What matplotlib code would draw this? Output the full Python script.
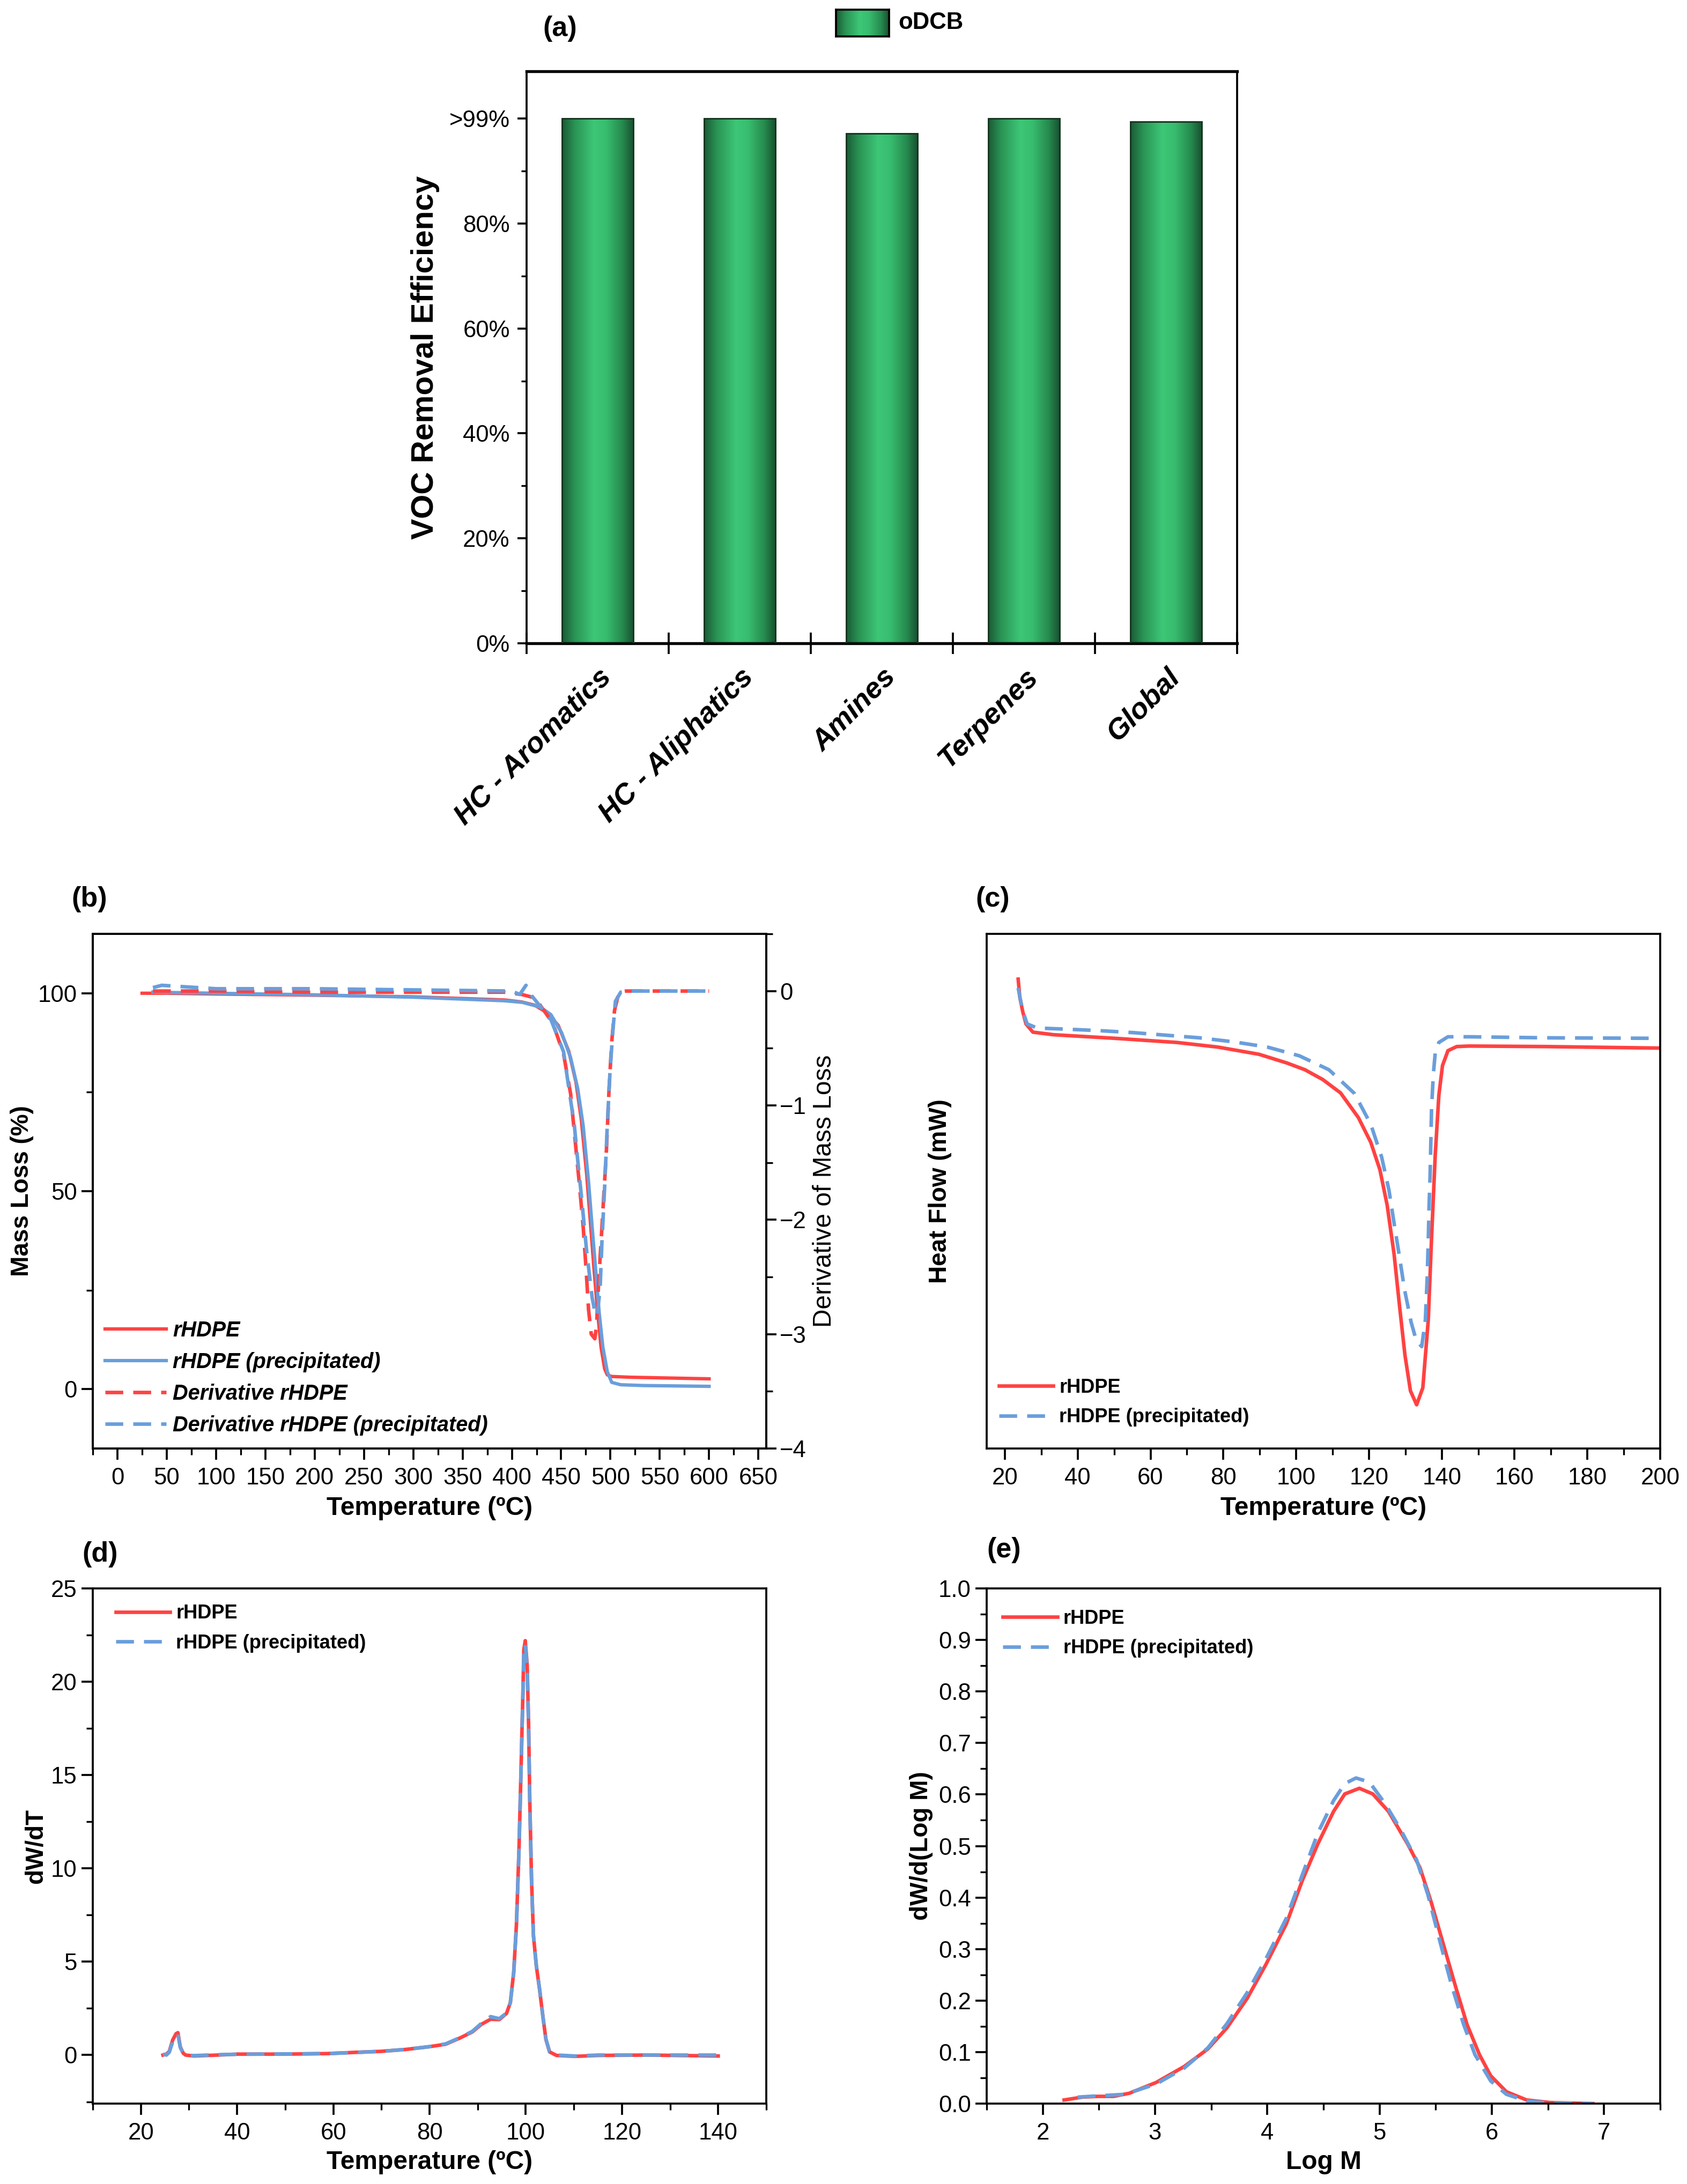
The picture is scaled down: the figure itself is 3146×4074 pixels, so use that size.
import numpy as np
import matplotlib
matplotlib.use('Agg')
import matplotlib.pyplot as plt
from matplotlib.colors import LinearSegmentedColormap
from matplotlib.ticker import MultipleLocator, FormatStrFormatter

plt.rcParams['font.family'] = ['Liberation Sans', 'DejaVu Sans']
plt.rcParams['axes.linewidth'] = 0.9
plt.rcParams['xtick.major.width'] = 0.9
plt.rcParams['ytick.major.width'] = 0.9
plt.rcParams['xtick.minor.width'] = 0.8
plt.rcParams['ytick.minor.width'] = 0.8

RED = '#ff4242'
BLUE = '#6a9edb'
DASH = (0, (5, 2.8))

# (a) VOC removal efficiency
voc_groups = ['HC - Aromatics', 'HC - Aliphatics', 'Amines', 'Terpenes', 'Global']
voc_efficiency = [100.0, 100.0, 97.1, 100.0, 99.4]
voc_ticks = [0, 20, 40, 60, 80, 100]
voc_ticklabels = ['0%', '20%', '40%', '60%', '80%', '>99%']

# (b) TGA mass loss and derivative
tga_temp_r = [25, 50, 100, 200, 300, 392.5, 410, 423, 435, 447, 457.8, 465, 470.4, 475.9, 479.5,
              483.2, 486.8, 490.4, 494.1, 496.8, 501, 520, 560, 600]
tga_mass_r = [100, 100, 99.8, 99.5, 99.1, 98.3, 97.8, 97.0, 95.2, 91.9, 85.3, 77.5, 68.1, 54.1, 42.5,
              30.6, 19.9, 10.6, 5.1, 3.6, 3.2, 3.0, 2.8, 2.6]
tga_temp_p = [36, 50, 100, 200, 300, 392.5, 410.6, 428.7, 439.6, 450.5, 459.6, 466.8, 472.3, 477.7,
              481.4, 485.0, 488.6, 492.3, 496.8, 501.3, 510.4, 534, 600]
tga_mass_p = [100.3, 100.2, 100.0, 99.6, 99.0, 98.1, 97.7, 96.5, 94.6, 90.0, 83.7, 75.9, 66.6, 52.6,
              41.0, 30.1, 19.2, 10.6, 4.4, 1.7, 1.1, 0.9, 0.7]
dtg_temp_r = [36, 100, 200, 300, 392.5, 410, 423.4, 441.5, 452.4, 459.6, 465.1, 468.7, 472.3, 475.1,
              477.8, 480.5, 484.1, 486, 486.8, 490.4, 493.2, 495.9, 498.6, 501.3, 504.1, 508.6, 515.9, 600]
dtg_r = [0.0, 0.0, -0.01, -0.01, -0.01, -0.03, -0.06, -0.28, -0.55, -0.90, -1.39, -1.71, -2.06, -2.41,
         -2.79, -3.0, -3.04, -2.92, -2.73, -2.2, -1.79, -1.39, -0.85, -0.44, -0.17, -0.01, 0.0, 0.0]
dtg_temp_p = [36, 45, 100, 200, 300, 400, 408, 414.3, 420, 439.6, 452.4, 457.8, 463.3, 466.9, 470.5,
              475.9, 481.4, 485.0, 487, 489.5, 491.3, 494.1, 496.8, 499.5, 502.3, 505, 510.4, 520, 600]
dtg_p = [0.03, 0.05, 0.02, 0.02, 0.01, 0.0, -0.03, 0.05, -0.04, -0.25, -0.53, -0.85, -1.17, -1.49,
         -1.79, -2.28, -2.68, -2.84, -2.80, -2.6, -2.2, -1.71, -1.17, -0.71, -0.36, -0.09, -0.01, 0.0, 0.0]

# (c) DSC heat flow (relative units)
dsc_temp_r = [23.65, 24.1, 24.9, 25.8, 27.7, 33.4, 50.3, 67.2, 78.5, 89.8, 97.5, 102.4, 107.3, 112.2,
              117.1, 120.5, 123.0, 125.0, 126.9, 128.4, 129.9, 131.4, 133.1, 134.8, 136.3, 137.2, 138.2,
              139.2, 140.2, 141.7, 144.1, 147.5, 168.5, 200.0]
dsc_r = [91.2, 87.7, 84.9, 82.5, 80.9, 80.4, 79.7, 78.9, 78.0, 76.6, 74.9, 73.6, 71.7, 69.1,
         64.3, 59.5, 54.2, 47.3, 37.8, 27.7, 18.1, 11.2, 8.5, 11.8, 25.0, 40.9, 56.9,
         68.6, 74.4, 77.3, 78.1, 78.2, 78.1, 77.8]
dsc_temp_p = [23.65, 24.4, 25.4, 26.1, 28.9, 36.2, 45.8, 55.4, 64.4, 73.4, 83.0, 92.1, 100.9, 109.0,
              116.0, 120.5, 123.5, 125.5, 126.9, 128.4, 129.8, 131.6, 133.0, 134.5, 135.5, 136.0, 136.3,
              136.5, 136.8, 137.0, 137.2, 137.7, 138.2, 139.2, 141.7, 147.5, 168.5, 199.5]
dsc_p = [89.5, 86.7, 84.0, 82.5, 81.7, 81.5, 81.2, 80.8, 80.3, 79.8, 79.0, 78.0, 76.3, 73.6,
         69.0, 63.0, 56.6, 50.2, 43.8, 37.2, 30.8, 24.5, 21.0, 19.8, 25.0, 33.2, 40.4,
         46.8, 53.1, 59.5, 66.2, 72.8, 76.8, 78.9, 80.0, 80.0, 79.8, 79.7]

# (d) TREF dW/dT
tref_temp = [24.6, 25.3, 25.9, 26.6, 27.3, 27.7, 28.2, 28.8, 29.3, 31, 36, 40, 50, 58.8, 65, 70, 75, 80,
             83.35, 86.3, 88.9, 90.8, 92.7, 94.5, 96.0, 96.8, 97.5, 98.06, 98.6, 99.0, 99.4, 99.6, 99.9,
             100.3, 100.6, 100.85, 101.2, 101.6, 102.2, 102.9, 103.6, 104.2, 104.95, 106.4, 110.2, 115,
             125, 140]
tref_r = [0.0, 0.05, 0.19, 0.8, 1.14, 1.2, 0.43, 0.1, 0.0, -0.05, 0.0, 0.05, 0.05, 0.08, 0.15, 0.2, 0.3,
          0.45, 0.58, 0.91, 1.24, 1.65, 1.92, 1.90, 2.23, 2.81, 4.45, 6.97, 11.04, 15.1, 19.3, 21.7,
          22.2, 20.9, 17.6, 13.5, 9.4, 6.4, 4.78, 3.46, 1.99, 0.83, 0.17, -0.02, -0.07, -0.02, 0.0, -0.05]
tref_p = [0.05, 0.0, 0.15, 0.7, 1.05, 1.1, 0.4, 0.08, 0.0, -0.03, 0.02, 0.04, 0.06, 0.08, 0.14, 0.2,
          0.3, 0.45, 0.6, 0.93, 1.27, 1.7, 2.06, 1.95, 2.25, 2.8, 4.4, 6.9, 11.0, 15.0, 19.2, 21.5,
          22.0, 20.8, 17.5, 13.4, 9.4, 6.4, 4.8, 3.5, 2.0, 0.85, 0.18, 0.0, -0.05, 0.0, 0.0, 0.0]

# (e) GPC molecular weight distribution
gpc_logm_r = [2.19, 2.35, 2.49, 2.63, 2.77, 3.01, 3.26, 3.47, 3.64, 3.82, 3.99, 4.17, 4.31, 4.45, 4.59,
              4.69, 4.82, 4.94, 5.08, 5.25, 5.36, 5.46, 5.57, 5.68, 5.78, 5.89, 5.99, 6.13, 6.31, 6.52,
              6.90]
gpc_r = [0.007, 0.0125, 0.014, 0.014, 0.020, 0.041, 0.072, 0.106, 0.147, 0.204, 0.271, 0.349, 0.432,
         0.504, 0.567, 0.601, 0.612, 0.601, 0.567, 0.504, 0.458, 0.391, 0.308, 0.225, 0.153, 0.095,
         0.054, 0.023, 0.007, 0.002, 0.0]
gpc_logm_p = [2.31, 2.49, 2.73, 3.01, 3.26, 3.47, 3.64, 3.82, 3.99, 4.17, 4.31, 4.45, 4.59, 4.69, 4.79,
              4.91, 5.05, 5.19, 5.33, 5.43, 5.54, 5.64, 5.75, 5.85, 5.99, 6.13, 6.31, 6.52, 6.90]
gpc_p = [0.0125, 0.015, 0.018, 0.038, 0.069, 0.108, 0.155, 0.215, 0.282, 0.360, 0.443, 0.525, 0.588,
         0.621, 0.632, 0.624, 0.582, 0.531, 0.473, 0.406, 0.313, 0.231, 0.153, 0.095, 0.044, 0.018,
         0.005, 0.001, 0.0]

W, H = 3146, 4074
fig = plt.figure(figsize=(W / 300, H / 300), dpi=300)


def px_axes(x0, y0, x1, y1):
    return fig.add_axes([x0 / W, 1 - y1 / H, (x1 - x0) / W, (y1 - y0) / H])


def style_ticks(ax):
    ax.tick_params(which='major', direction='out', length=5, labelsize=10.5, top=False, right=False)
    ax.tick_params(which='minor', direction='out', length=2.8, top=False, right=False)
    ax.tick_params(axis='y', which='major', pad=2)


def place_labels(ax, xl, yl, xpos, ypos, xsize=11.5, ysize=11):
    ax.set_xlabel(xl, fontsize=xsize, fontweight='bold')
    ax.set_ylabel(yl, fontsize=ysize, fontweight='bold')
    ax.xaxis.label.set_va('center')
    ax.yaxis.label.set_va('center')
    ax.xaxis.set_label_coords(0.5, xpos)
    ax.yaxis.set_label_coords(ypos, 0.5)


def panel_tag(x, y, s):
    fig.text(x / W, 1 - y / H, s, fontsize=12.5, fontweight='bold', va='center', ha='left')


LEG = dict(frameon=False, handlelength=2.8, handletextpad=0.3, labelspacing=0.57, borderpad=0.2,
           prop={'size': 8.7, 'weight': 'bold'})

# ---------------- (a) ----------------
ax = px_axes(982, 133, 2307, 1200)
bar_cmap = LinearSegmentedColormap.from_list(
    'bar', [(0, '#1b5a35'), (0.18, '#2a9455'), (0.45, '#3dc777'), (0.62, '#38bd6f'),
            (0.85, '#268a4e'), (1, '#185231')])
pos = np.arange(1, len(voc_groups) + 1)
bars = ax.bar(pos, voc_efficiency, width=0.5, color='none', edgecolor='#14361f', linewidth=0.7, zorder=3)
grad = np.linspace(0, 1, 256).reshape(1, -1)
for b in bars:
    im = ax.imshow(grad, cmap=bar_cmap, aspect='auto', interpolation='bilinear', zorder=2,
                   extent=(b.get_x(), b.get_x() + b.get_width(), 0, b.get_height()))
    im.set_clip_path(b)
ax.set_xlim(0.5, 5.5)
ax.set_ylim(0, 109)
ax.set_xticks(np.arange(0.5, 6.0, 1.0))
ax.set_xticklabels([''] * 6)
ax.set_xticks(pos, minor=True)
ax.set_xticklabels(voc_groups, minor=True, rotation=45, ha='right', va='top', rotation_mode='anchor',
                   fontsize=13, fontweight='bold', fontstyle='italic')
ax.tick_params(axis='x', which='major', direction='inout', length=9.6, width=0.9)
ax.tick_params(axis='x', which='minor', length=0, pad=9)
ax.set_yticks(voc_ticks)
ax.set_yticklabels(voc_ticklabels, fontsize=10.5)
ax.yaxis.set_minor_locator(MultipleLocator(10))
ax.tick_params(axis='y', which='major', direction='out', length=4)
ax.tick_params(axis='y', which='minor', direction='out', length=2.5)
ax.spines['top'].set_linewidth(1.3)
ax.spines['bottom'].set_linewidth(1.3)
ax.set_ylabel('VOC Removal Efficiency', fontsize=14, fontweight='bold')
ax.yaxis.label.set_va('center')
ax.yaxis.set_label_coords(-0.143, 0.5)

lax = fig.add_axes([1559 / W, 1 - 68 / H, 99 / W, 50 / H])
lax.imshow(grad, cmap=bar_cmap, aspect='auto', interpolation='bilinear')
lax.set_xticks([])
lax.set_yticks([])
for s in lax.spines.values():
    s.set_linewidth(0.9)
fig.text(1675 / W, 1 - 43 / H, 'oDCB', fontsize=10.5, fontweight='bold', va='center', ha='left')
panel_tag(1012, 53, '(a)')

# ---------------- (b) ----------------
ax = px_axes(173, 1742, 1429, 2702)
l1, = ax.plot(tga_temp_r, tga_mass_r, color=RED, lw=1.5, label='rHDPE')
l2, = ax.plot(tga_temp_p, tga_mass_p, color=BLUE, lw=1.5, label='rHDPE (precipitated)')
ax.set_xlim(-25, 658)
ax.set_ylim(-15, 115)
ax.xaxis.set_major_locator(MultipleLocator(50))
ax.xaxis.set_minor_locator(MultipleLocator(25))
ax.set_yticks([0, 50, 100])
ax.set_yticks([25, 75], minor=True)
style_ticks(ax)
place_labels(ax, 'Temperature (ºC)', 'Mass Loss (%)', -0.116, -0.105)
ax2 = ax.twinx()
l3, = ax2.plot(dtg_temp_r, dtg_r, color=RED, lw=1.6, ls=DASH, label='Derivative rHDPE')
l4, = ax2.plot(dtg_temp_p, dtg_p, color=BLUE, lw=1.6, ls=DASH, label='Derivative rHDPE (precipitated)')
ax2.set_ylim(-4, 0.5)
ax2.yaxis.set_major_locator(MultipleLocator(1))
ax2.yaxis.set_minor_locator(MultipleLocator(0.5))
ax2.tick_params(which='major', direction='out', length=4.5, labelsize=10.5, pad=1.5)
ax2.tick_params(which='minor', direction='out', length=2.8)
ax2.set_ylabel('Derivative of Mass Loss', fontsize=11.5)
ax2.yaxis.label.set_va('center')
ax2.yaxis.set_label_coords(1.086, 0.5)
ax2.legend(handles=[l1, l2, l3, l4], loc='lower left', bbox_to_anchor=(-0.004, -0.004), frameon=False,
           handlelength=2.9, handletextpad=0.3, labelspacing=0.53, borderpad=0.2,
           prop={'size': 9.5, 'weight': 'bold', 'style': 'italic'})
panel_tag(133, 1677, '(b)')

# ---------------- (c) ----------------
ax = px_axes(1840, 1742, 3096, 2702)
ax.plot(dsc_temp_r, dsc_r, color=RED, lw=1.6, label='rHDPE')
ax.plot(dsc_temp_p, dsc_p, color=BLUE, lw=1.6, ls=DASH, label='rHDPE (precipitated)')
ax.set_xlim(15, 200)
ax.set_ylim(0, 100)
ax.xaxis.set_major_locator(MultipleLocator(20))
ax.xaxis.set_minor_locator(MultipleLocator(10))
ax.set_yticks([])
style_ticks(ax)
place_labels(ax, 'Temperature (ºC)', 'Heat Flow (mW)', -0.116, -0.069)
ax.legend(loc='lower left', bbox_to_anchor=(-0.002, 0.016), **LEG)
panel_tag(1819, 1677, '(c)')

# ---------------- (d) ----------------
ax = px_axes(173, 2963, 1429, 3924)
ax.plot(tref_temp, tref_r, color=RED, lw=1.6, label='rHDPE')
ax.plot(tref_temp, tref_p, color=BLUE, lw=1.6, ls=DASH, label='rHDPE (precipitated)')
ax.set_xlim(10, 150)
ax.set_ylim(-2.6, 25)
ax.xaxis.set_major_locator(MultipleLocator(20))
ax.xaxis.set_minor_locator(MultipleLocator(10))
ax.yaxis.set_major_locator(MultipleLocator(5))
ax.yaxis.set_minor_locator(MultipleLocator(2.5))
style_ticks(ax)
place_labels(ax, 'Temperature (ºC)', 'dW/dT', -0.114, -0.085)
ax.legend(loc='upper left', bbox_to_anchor=(0.014, 0.996), **LEG)
panel_tag(153, 2900, '(d)')

# ---------------- (e) ----------------
ax = px_axes(1840, 2963, 3096, 3924)
ax.plot(gpc_logm_r, gpc_r, color=RED, lw=1.6, label='rHDPE')
ax.plot(gpc_logm_p, gpc_p, color=BLUE, lw=1.6, ls=DASH, label='rHDPE (precipitated)')
ax.set_xlim(1.5, 7.5)
ax.set_ylim(0, 1.0)
ax.xaxis.set_major_locator(MultipleLocator(1))
ax.xaxis.set_minor_locator(MultipleLocator(0.5))
ax.yaxis.set_major_locator(MultipleLocator(0.1))
ax.yaxis.set_minor_locator(MultipleLocator(0.05))
ax.yaxis.set_major_formatter(FormatStrFormatter('%.1f'))
style_ticks(ax)
place_labels(ax, 'Log M', 'dW/d(Log M)', -0.114, -0.097)
ax.legend(loc='upper left', bbox_to_anchor=(0.004, 0.986), **LEG)
panel_tag(1840, 2891, '(e)')

fig.savefig('out.png', dpi=300, facecolor='white')
